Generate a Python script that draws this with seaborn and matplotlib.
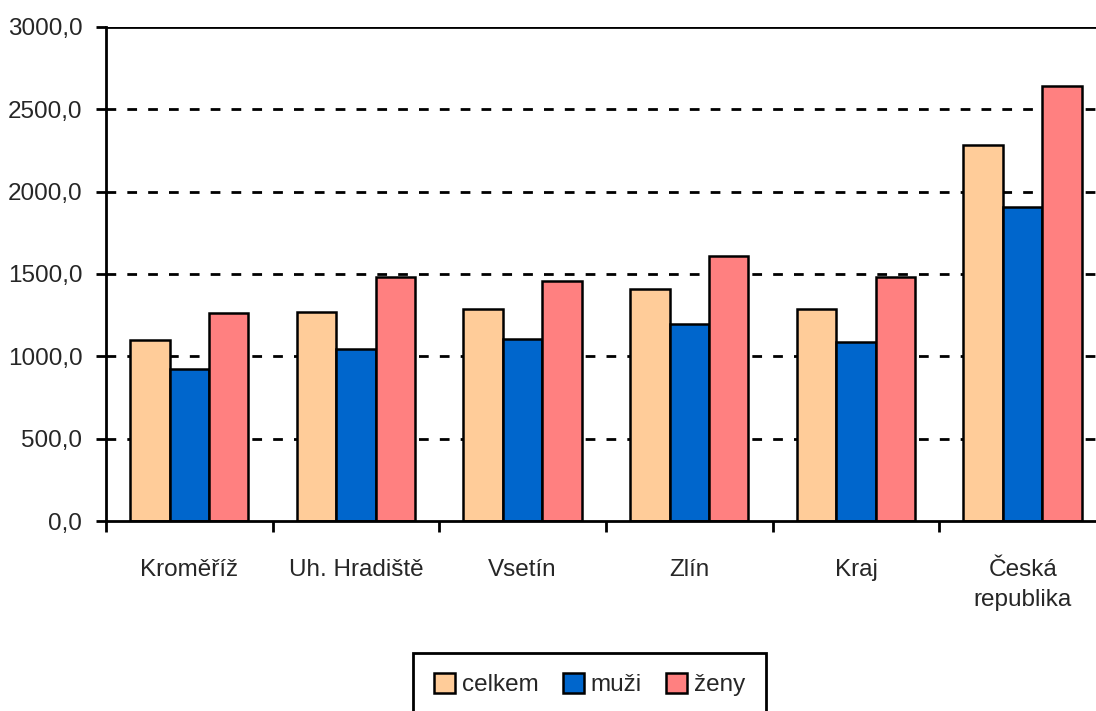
import pandas as pd
import matplotlib.pyplot as plt
import seaborn as sns
from matplotlib.ticker import FuncFormatter, FixedLocator

# data
regions = ["Kroměříž", "Uh. Hradiště", "Vsetín", "Zlín", "Kraj", "Česká\nrepublika"]
celkem = [1099, 1268, 1287, 1408, 1287, 2283]
muzi = [925, 1045, 1105, 1196, 1087, 1908]
zeny = [1264, 1482, 1458, 1608, 1481, 2642]
series = ["celkem", "muži", "ženy"]
colors = ["#FFCC99", "#0066CC", "#FF8080"]

df = pd.DataFrame({"region": regions * 3,
                   "skupina": [s for s in series for _ in regions],
                   "hodnota": celkem + muzi + zeny})

sns.set_style("white")
plt.rcParams["font.family"] = ["Liberation Sans", "DejaVu Sans"]
fs = 17.5

fig = plt.figure(figsize=(10.96, 7.11), dpi=100)
# axes runs a bit past the right edge, like the original export
ax = fig.add_axes([0.0967, 0.2672, 0.9124, 0.695])

sns.barplot(data=df, x="region", y="hodnota", hue="skupina", palette=colors,
            width=0.71, edgecolor="black", linewidth=1.8, saturation=1, ax=ax)

ax.set_ylim(0, 3000)
ax.set_xlim(-0.5, len(regions) - 0.5)
ax.set_yticks(range(0, 3001, 500))
ax.yaxis.set_major_formatter(FuncFormatter(lambda v, p: f"{v:.1f}".replace(".", ",")))
for y in range(500, 3000, 500):
    ax.axhline(y, color="black", linestyle=(0, (3.5, 4)), linewidth=2, zorder=0)
ax.axhline(3000, color="black", linewidth=2, zorder=0)

ax.set_xlabel("")
ax.set_ylabel("")
ax.spines["right"].set_visible(False)
ax.spines["top"].set_visible(False)
for s in ["left", "bottom"]:
    ax.spines[s].set_linewidth(2)
    ax.spines[s].set_color("black")

ax.tick_params(axis="x", which="major", length=0, pad=27, labelsize=fs)
for lab in ax.get_xticklabels():
    lab.set_linespacing(1.5)
ax.xaxis.set_minor_locator(FixedLocator([i - 0.5 for i in range(len(regions) + 1)]))
ax.tick_params(axis="x", which="minor", length=8, width=2, direction="out", color="black", bottom=True)
ax.tick_params(axis="y", length=7, width=2, direction="out", color="black", labelsize=fs, left=True, pad=10)

ax.legend(title=None, loc="upper center", bbox_to_anchor=(0.538, 0.082),
          bbox_transform=fig.transFigure, ncol=3, frameon=True, fancybox=False,
          edgecolor="black", framealpha=1, fontsize=fs, handlelength=0.85,
          handleheight=0.85, handletextpad=0.3, columnspacing=1.0,
          borderpad=0.85, borderaxespad=0)
ax.get_legend().get_frame().set_linewidth(2)

fig.savefig("out.png", dpi=100)
